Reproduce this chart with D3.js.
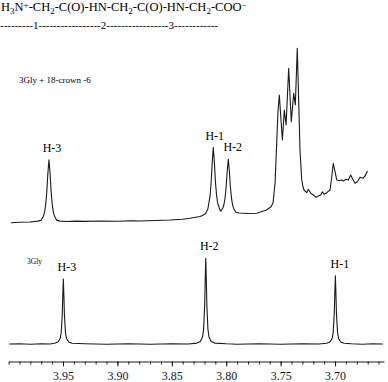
<!DOCTYPE html>
<html>
<head>
<meta charset="utf-8">
<script src="https://cdn.jsdelivr.net/npm/d3@7"></script>
<style>
    html, body { margin: 0; padding: 0; background: #fff; }
    svg { display: block; font-family: "Liberation Serif", "Times New Roman", serif; }
    .trace { fill: none; stroke: #1a1a1a; stroke-width: 1.1; stroke-linejoin: round; }
    .axis path, .axis line { stroke: #1a1a1a; }
    .axis text { font-family: "Liberation Serif", serif; font-size: 12px; fill: #1a1a1a; }
</style>
</head>
<body>
<div id="chart"></div>
<script>
const width = 388;
const height = 382;

// Chemical shift axis (ppm), reversed as usual for NMR.
const ppmDomain = [4.0, 3.655];
const majorTicks = [3.95, 3.90, 3.85, 3.80, 3.75, 3.70];
const minorTicks = [4.00, 3.99, 3.98, 3.97, 3.96, 3.95, 3.94, 3.93, 3.92, 3.91, 3.90,
    3.89, 3.88, 3.87, 3.86, 3.85, 3.84, 3.83, 3.82, 3.81, 3.80, 3.79, 3.78, 3.77, 3.76,
    3.75, 3.74, 3.73, 3.72, 3.71, 3.70, 3.69, 3.68, 3.67, 3.66];

// 3Gly + 18-crown-6 trace: [ppm, intensity]
const crownTrace = [
    [3.9978, 0.3], [3.9895, 0.7], [3.9803, 1.0], [3.9729, 1.9], [3.9699, 2.9],
    [3.9679, 6.9], [3.9669, 11.2], [3.9659, 18.7], [3.9649, 31.1], [3.9639, 49.7],
    [3.9629, 63.3], [3.9619, 49.7], [3.9609, 31.1], [3.9599, 18.7], [3.9589, 11.2],
    [3.9579, 6.9], [3.9559, 2.9], [3.9529, 1.9], [3.9460, 1.5], [3.9380, 1.9],
    [3.9300, 1.6], [3.9160, 2.0], [3.9000, 1.7], [3.8880, 2.3], [3.8792, 2.0],
    [3.8650, 2.5], [3.8517, 3.0], [3.8400, 3.8], [3.8333, 4.7], [3.8241, 6.5],
    [3.8219, 7.6], [3.8189, 9.5], [3.8169, 13.9], [3.8149, 26.7], [3.8139, 40.0],
    [3.8129, 59.9], [3.8119, 75.5], [3.8109, 60.9], [3.8099, 40.9], [3.8089, 28.1],
    [3.8079, 20.0], [3.8059, 13.4], [3.8049, 11.8], [3.8031, 15.0], [3.8021, 18.5],
    [3.8011, 24.7], [3.8001, 35.5], [3.7991, 51.7], [3.7981, 63.7], [3.7971, 51.4],
    [3.7961, 35.2], [3.7951, 24.4], [3.7941, 17.9], [3.7931, 14.3], [3.7911, 10.8],
    [3.7881, 10.0], [3.7800, 9.5], [3.7720, 9.8], [3.7630, 13.0], [3.7590, 16.0],
    [3.7570, 20.0], [3.7551, 40.0], [3.7538, 75.0], [3.7524, 112.0], [3.7512, 128.0],
    [3.7484, 83.0], [3.7466, 113.0], [3.7450, 98.0], [3.7426, 154.7], [3.7402, 101.3],
    [3.7380, 129.7], [3.7365, 118.0], [3.7347, 174.7], [3.7322, 73.0], [3.7306, 43.0],
    [3.7294, 36.0], [3.7285, 33.0], [3.7260, 30.3], [3.7245, 33.7], [3.7223, 29.7],
    [3.7199, 28.0], [3.7175, 25.7], [3.7153, 27.0], [3.7131, 28.0], [3.7117, 31.3],
    [3.7101, 28.7], [3.7076, 30.3], [3.7046, 33.0], [3.7030, 46.3], [3.7016, 59.7],
    [3.7000, 51.3], [3.6984, 43.0], [3.6961, 42.3], [3.6938, 43.0], [3.6924, 42.0],
    [3.6899, 43.7], [3.6878, 43.0], [3.6856, 48.0], [3.6837, 43.7], [3.6816, 39.7],
    [3.6795, 41.3], [3.6770, 45.7], [3.6745, 44.7], [3.6724, 47.0], [3.6702, 52.0]
];

// 3Gly trace: [ppm, intensity]
const glyTrace = [
    [3.9995, 0.0], [3.9900, 0.3], [3.9800, -0.2], [3.9700, 0.2], [3.9620, 0.0],
    [3.9577, 0.7], [3.9547, 2.0], [3.9527, 5.2], [3.9517, 11.0], [3.9507, 29.0],
    [3.9502, 49.0], [3.9497, 65.0], [3.9492, 49.0], [3.9487, 29.0], [3.9477, 11.0],
    [3.9467, 5.2], [3.9447, 2.0], [3.9417, 0.7], [3.9300, 0.2], [3.9100, -0.3],
    [3.8900, 0.2], [3.8700, -0.2], [3.8500, 0.3], [3.8350, 0.0], [3.8268, 0.9],
    [3.8238, 2.6], [3.8218, 6.9], [3.8208, 14.6], [3.8198, 38.7], [3.8193, 64.5],
    [3.8188, 85.7], [3.8183, 64.5], [3.8178, 38.7], [3.8168, 14.6], [3.8158, 6.9],
    [3.8138, 2.6], [3.8108, 0.9], [3.8000, 0.2], [3.7900, -0.2], [3.7700, 0.2],
    [3.7500, -0.3], [3.7300, 0.2], [3.7150, 0.0], [3.7077, 0.7], [3.7047, 2.0],
    [3.7027, 5.4], [3.7017, 11.6], [3.7007, 30.6], [3.7002, 51.0], [3.6997, 68.3],
    [3.6992, 51.0], [3.6987, 30.6], [3.6977, 11.6], [3.6967, 5.4], [3.6947, 2.0],
    [3.6917, 0.7], [3.6850, 0.2], [3.6750, -0.2], [3.6650, 0.2], [3.6560, 0.0]
];

// Peak assignments
const crownPeaks = [["H-3", 3.9629, 63.3], ["H-1", 3.8119, 75.5], ["H-2", 3.7981, 63.7]];
const glyPeaks = [["H-3", 3.9497, 65.0], ["H-2", 3.8188, 85.7], ["H-1", 3.6997, 68.3]];

const svg = d3.select("#chart").append("svg")
    .attr("width", width)
    .attr("height", height);

// Scales: one shared ppm axis, one intensity scale per trace.
const x = d3.scaleLinear().domain(ppmDomain).range([8.6, 384]);
const yTop = d3.scaleLinear().domain([0, 200]).range([223, 23]);
const yBottom = d3.scaleLinear().domain([0, 100]).range([344, 244]);

const lineTop = d3.line().x(d => x(d[0])).y(d => yTop(d[1]));
const lineBottom = d3.line().x(d => x(d[0])).y(d => yBottom(d[1]));

svg.append("path").attr("class", "trace").attr("d", lineTop(crownTrace));
svg.append("path").attr("class", "trace").attr("d", lineBottom(glyTrace));

// Axis: minor ticks every 0.01, labelled ticks every 0.05.
svg.append("g")
    .attr("class", "axis")
    .attr("transform", "translate(0, 361.5)")
    .call(d3.axisBottom(x).tickValues(minorTicks).tickSize(3).tickSizeOuter(0).tickFormat(""));

const major = svg.append("g")
    .attr("class", "axis")
    .attr("transform", "translate(0, 361.5)")
    .call(d3.axisBottom(x).tickValues(majorTicks).tickSize(5).tickSizeOuter(0).tickFormat(d3.format(".2f")));
major.select(".domain").remove();
major.selectAll("text").attr("dy", 0).attr("y", 18);

// Peak labels
const peakLabel = (peaks, y, offsets) => {
    svg.append("g").selectAll("text")
        .data(peaks)
        .join("text")
        .attr("x", (d, i) => x(d[1]) + offsets[i])
        .attr("y", d => y(d[2]) - 8)
        .attr("text-anchor", "middle")
        .style("font-size", "12px")
        .text(d => d[0]);
};
peakLabel(crownPeaks, yTop, [3, 1.5, 4.5]);
peakLabel(glyPeaks, yBottom, [3.5, 3.5, 4.5]);

// Sample names
svg.append("text").attr("x", 19).attr("y", 83).style("font-size", "9px").text("3Gly + 18-crown -6");
svg.append("text").attr("x", 27).attr("y", 264).style("font-size", "7.5px").text("3Gly");

// Structure formula with sub/superscripts
const formula = svg.append("text").attr("x", 1).attr("y", 11).style("font-size", "12.5px");
const parts = [["H", 0], ["3", 1], ["N", 0], ["+", -1], ["-CH", 0], ["2", 1], ["-C(O)-HN-CH", 0],
    ["2", 1], ["-C(O)-HN-CH", 0], ["2", 1], ["-COO", 0], ["\u2212", -1]];
let shift = 0;
parts.forEach(([t, s]) => {
    const dy = s * 3 - shift;
    shift = s * 3;
    formula.append("tspan")
        .attr("dy", dy)
        .style("font-size", s ? "9px" : "12.5px")
        .text(t);
});

svg.append("text").attr("x", 0).attr("y", 29).style("font-size", "11px")
    .text("---------1-----------------2-----------------3------------");
</script>
</body>
</html>
